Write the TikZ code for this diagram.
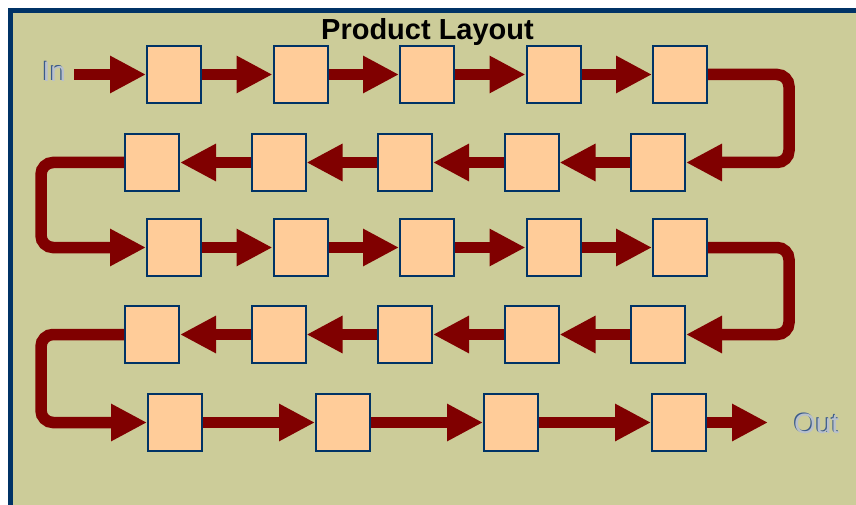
\documentclass[tikz,border=0pt]{standalone}
\usepackage{fontspec}
\setmainfont{Liberation Sans}
\usetikzlibrary{arrows.meta}
\usetikzlibrary{positioning}
\definecolor{panel}{HTML}{CCCC99}
\definecolor{frameblue}{HTML}{003366}
\definecolor{stationfill}{HTML}{FFCC99}
\definecolor{flowred}{HTML}{800000}
\definecolor{labelgrey}{HTML}{B8C0CC}
\definecolor{labelshade}{HTML}{3A5A8A}

\begin{document}
\begin{tikzpicture}[
      x=1pt, y=-1pt,
      station/.style ={rectangle, draw=frameblue, line width=2pt, fill=stationfill, minimum width=54pt, minimum height=57pt, inner sep=0pt},
      flow/.style ={draw=flowred, line width=11.5pt, -{Triangle[length=36pt,width=35pt]}},
      uturn/.style ={flow, rounded corners=12pt},
      endlabel/.style={font=\fontsize{28}{30}\selectfont, text=labelgrey, inner xsep=8pt, inner ysep=0pt, anchor=base},
      node distance=70.5pt
    ]
    \clip (0,0) rectangle (856,505);
    \draw [frameblue, line width=5pt, fill=panel] (10.5,10.5) rectangle (880,530);

    \node [anchor=base, font=\bfseries\fontsize{29}{32}\selectfont] (title) at (427.5,39.5) {Product Layout};

    % row 1, left to right
    \node [station] (r1c1) at (174,74.5) {};
    \node [station] (r1c2) [right=of r1c1] {};
    \node [station] (r1c3) [right=of r1c2] {};
    \node [station] (r1c4) [right=of r1c3] {};
    \node [station] (r1c5) [right=of r1c4] {};
    % row 2, right to left
    \node [station] (r2c1) at (152,162.5) {};
    \node [station] (r2c2) [right=of r2c1] {};
    \node [station] (r2c3) [right=of r2c2] {};
    \node [station] (r2c4) [right=of r2c3] {};
    \node [station] (r2c5) [right=of r2c4] {};
    % row 3, left to right
    \node [station] (r3c1) at (174,247.5) {};
    \node [station] (r3c2) [right=of r3c1] {};
    \node [station] (r3c3) [right=of r3c2] {};
    \node [station] (r3c4) [right=of r3c3] {};
    \node [station] (r3c5) [right=of r3c4] {};
    % row 4, right to left
    \node [station] (r4c1) at (152,334.5) {};
    \node [station] (r4c2) [right=of r4c1] {};
    \node [station] (r4c3) [right=of r4c2] {};
    \node [station] (r4c4) [right=of r4c3] {};
    \node [station] (r4c5) [right=of r4c4] {};
    % row 5, left to right
    \node [station] (r5c1) at (175,422.5) {};
    \node [station] (r5c2) [right=112pt of r5c1] {};
    \node [station] (r5c3) [right=112pt of r5c2] {};
    \node [station] (r5c4) [right=112pt of r5c3] {};

    \node [endlabel, text=labelshade] (inshade) at (53,80.5) {In};
    \node [endlabel] (in) at (54.2,81.5) {In};
    \node [endlabel, text=labelshade] (outshade) at (815.5,432) {Out};
    \node [endlabel] (out) at (816.7,433) {Out};
    \coordinate (outtip) at (768,422.5);

    \draw [flow] (in.east |- r1c1) -- (r1c1) ;
    \draw [flow] (r1c1) -- (r1c2) ;
    \draw [flow] (r1c2) -- (r1c3) ;
    \draw [flow] (r1c3) -- (r1c4) ;
    \draw [flow] (r1c4) -- (r1c5) ;
    \draw [uturn] (r1c5.east) -- ++(81,0) |- (r2c5.east) ;
    \draw [flow] (r2c5) -- (r2c4) ;
    \draw [flow] (r2c4) -- (r2c3) ;
    \draw [flow] (r2c3) -- (r2c2) ;
    \draw [flow] (r2c2) -- (r2c1) ;
    \draw [uturn] (r2c1.west) -- ++(-83,0) |- (r3c1.west) ;
    \draw [flow] (r3c1) -- (r3c2) ;
    \draw [flow] (r3c2) -- (r3c3) ;
    \draw [flow] (r3c3) -- (r3c4) ;
    \draw [flow] (r3c4) -- (r3c5) ;
    \draw [uturn] (r3c5.east) -- ++(81,0) |- (r4c5.east) ;
    \draw [flow] (r4c5) -- (r4c4) ;
    \draw [flow] (r4c4) -- (r4c3) ;
    \draw [flow] (r4c3) -- (r4c2) ;
    \draw [flow] (r4c2) -- (r4c1) ;
    \draw [uturn] (r4c1.west) -- ++(-83,0) |- (r5c1.west) ;
    \draw [flow] (r5c1) -- (r5c2) ;
    \draw [flow] (r5c2) -- (r5c3) ;
    \draw [flow] (r5c3) -- (r5c4) ;
    \draw [flow] (r5c4) -- (outtip) ;
  \end{tikzpicture}
\end{document}
